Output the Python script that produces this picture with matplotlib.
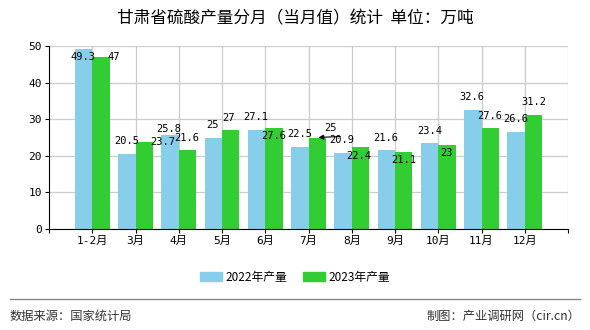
import matplotlib
matplotlib.use("Agg")
import matplotlib.pyplot as plt
from matplotlib.patches import Patch
from matplotlib.lines import Line2D
import numpy as np

# 数据
months = ["1-2月", "3月", "4月", "5月", "6月", "7月", "8月", "9月", "10月", "11月", "12月"]
prod_2022 = [49.3, 20.5, 25.8, 25, 27.1, 22.5, 20.9, 21.6, 23.4, 32.6, 26.6]
prod_2023 = [47, 23.7, 21.6, 27, 27.6, 25, 22.4, 21.1, 23, 27.6, 31.2]
label_2022 = [str(v) for v in prod_2022]
label_2023 = [str(v) for v in prod_2023]

# 标签偏移 (像素: dx, dy 向上为正)
off_2022 = [(-1, -8), (0, 12.5), (-1, 5.3), (-1, 12), (-0.6, 12.5), (0, 12.3),
            (-1, 12.5), (-1, 11.6), (0, 12.4), (-0.6, 13), (-0.8, 12.9)]
off_2023 = [(12.4, 0), (18.5, 0), (-1, 11.6), (-1.7, 11.9), (-0.6, -8), (13, 9.2),
            (-1.4, -8.7), (-0.4, -8.2), (-0.6, -8.5), (-0.5, 12), (0.3, 13.1)]

c_2022 = "#87CEEB"
c_2023 = "#32CD32"
cjk = ["Noto Sans CJK SC", "DejaVu Sans"]
mono = ["DejaVu Sans Mono", "Noto Sans CJK SC"]
px2pt = 0.72

fig = plt.figure(figsize=(5.9, 3.3), dpi=100)
ax = fig.add_axes([49 / 590, 1 - 229 / 330, 519 / 590, 183 / 330])

x = np.arange(1, len(months) + 1)
w = 0.4
ax.bar(x - w / 2, prod_2022, w, color=c_2022, zorder=2)
ax.bar(x + w / 2, prod_2023, w, color=c_2023, zorder=2)

for i in range(len(months)):
    dx, dy = off_2022[i]
    ax.annotate(label_2022[i], (x[i] - w / 2, prod_2022[i]), xytext=(dx * px2pt, dy * px2pt),
                textcoords="offset points", ha="center", va="center",
                fontsize=7.5, family=mono, zorder=4)
    dx, dy = off_2023[i]
    ax.annotate(label_2023[i], (x[i] + w / 2, prod_2023[i]), xytext=(dx * px2pt, dy * px2pt),
                textcoords="offset points", ha="center", va="center",
                fontsize=7.5, family=mono, zorder=4)
    if months[i] == "7月":
        # 引导线
        ax.annotate("", (x[i] + w / 2, prod_2023[i]), xytext=(23 * px2pt, 1 * px2pt),
                    textcoords="offset points",
                    arrowprops=dict(arrowstyle="-|>", color="black", lw=0.8,
                                    shrinkA=0, shrinkB=1, mutation_scale=7), zorder=4)

ax.set_xlim(0, len(months) + 1)
ax.set_ylim(0, 50)
ax.set_yticks(range(0, 51, 10))
ax.set_xticks(range(0, len(months) + 2))
ax.set_xticklabels([""] + months + [""], family=mono, fontsize=8)
for lab in ax.get_yticklabels():
    lab.set_family(mono)
    lab.set_fontsize(8)

ax.grid(True, color="#cccccc", lw=0.9, zorder=0)
ax.set_axisbelow(True)
ax.spines["top"].set_visible(False)
ax.spines["right"].set_visible(False)
ax.spines["left"].set_color("black")
ax.spines["bottom"].set_color("black")
ax.tick_params(axis="both", length=3, width=0.8, color="black", pad=2)
# 去掉 x=0 的竖向网格线
ax.get_xgridlines()[0].set_visible(False)

fig.text(0.5, 1 - 19 / 330, "甘肃省硫酸产量分月（当月值）统计  单位：万吨",
         ha="center", va="center", fontsize=12, family=cjk)

handles = [Patch(color=c_2022, label="2022年产量"), Patch(color=c_2023, label="2023年产量")]
fig.legend(handles=handles, loc="center", bbox_to_anchor=(0.5, 1 - 277 / 330), ncol=2,
           frameon=False, prop={"family": cjk, "size": 8.5}, handlelength=1.8,
           handleheight=0.8, columnspacing=1.4, handletextpad=0.3)

fig.add_artist(Line2D([10 / 590, 580 / 590], [1 - 299 / 330] * 2, color="#888888", lw=1))
fig.text(10 / 590, 1 - 316 / 330, "数据来源：国家统计局", ha="left", va="center",
         fontsize=8.8, family=cjk, color="#333333")
fig.text(580 / 590, 1 - 316 / 330, "制图：产业调研网（cir.cn）", ha="right", va="center",
         fontsize=8.8, family=cjk, color="#333333")

fig.savefig("out.png", dpi=100)
